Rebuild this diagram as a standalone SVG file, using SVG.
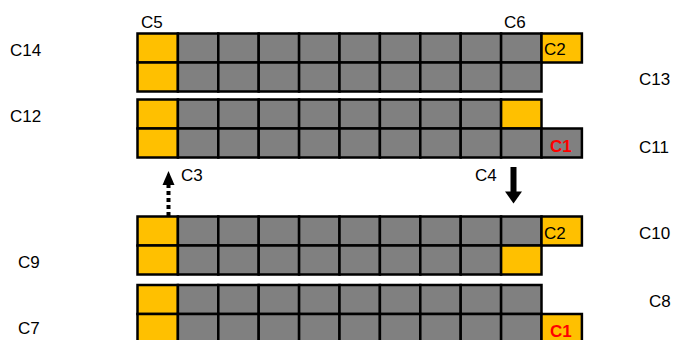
<svg xmlns="http://www.w3.org/2000/svg" width="674" height="340" viewBox="0 0 674 340">
<style>
.g{fill:#808080;stroke:#000;stroke-width:2.5}
.y{fill:#FFC000;stroke:#000;stroke-width:2.5}
text{font-family:"Liberation Sans",Arial,sans-serif;font-size:17px;fill:#000}
.r{fill:#FF0000;font-weight:bold}
</style>
<defs>
<g id="row9">
<rect class="g" x="177.9" width="40.4" height="29"/>
<rect class="g" x="218.3" width="40.4" height="29"/>
<rect class="g" x="258.7" width="40.4" height="29"/>
<rect class="g" x="299.1" width="40.4" height="29"/>
<rect class="g" x="339.5" width="40.4" height="29"/>
<rect class="g" x="379.9" width="40.4" height="29"/>
<rect class="g" x="420.3" width="40.4" height="29"/>
<rect class="g" x="460.7" width="40.4" height="29"/>
</g>
</defs>
<g id="block1">
<rect class="y" x="137.5" y="33.5" width="40.4" height="29"/>
<use href="#row9" y="33.5"/>
<rect class="g" x="501.1" y="33.5" width="40.4" height="29"/>
<rect class="y" x="541.5" y="33.5" width="40.4" height="29"/>
<text x="544" y="55">C2</text>
<rect class="y" x="137.5" y="62.5" width="40.4" height="29"/>
<use href="#row9" y="62.5"/>
<rect class="g" x="501.1" y="62.5" width="40.4" height="29"/>
</g>
<g id="block2">
<rect class="y" x="137.5" y="99.5" width="40.4" height="29"/>
<use href="#row9" y="99.5"/>
<rect class="y" x="501.1" y="99.5" width="40.4" height="29"/>
<rect class="y" x="137.5" y="128.5" width="40.4" height="29"/>
<use href="#row9" y="128.5"/>
<rect class="g" x="501.1" y="128.5" width="40.4" height="29"/>
<rect class="g" x="541.5" y="128.5" width="40.4" height="29"/>
<text class="r" x="550" y="152">C1</text>
</g>
<g id="block3">
<rect class="y" x="137.5" y="216.5" width="40.4" height="29"/>
<use href="#row9" y="216.5"/>
<rect class="g" x="501.1" y="216.5" width="40.4" height="29"/>
<rect class="y" x="541.5" y="216.5" width="40.4" height="29"/>
<text x="544" y="239">C2</text>
<rect class="y" x="137.5" y="245.5" width="40.4" height="29"/>
<use href="#row9" y="245.5"/>
<rect class="y" x="501.1" y="245.5" width="40.4" height="29"/>
</g>
<g id="block4">
<rect class="y" x="137.5" y="285" width="40.4" height="29"/>
<use href="#row9" y="285"/>
<rect class="g" x="501.1" y="285" width="40.4" height="29"/>
<rect class="y" x="137.5" y="314" width="40.4" height="29"/>
<use href="#row9" y="314"/>
<rect class="g" x="501.1" y="314" width="40.4" height="29"/>
<rect class="y" x="541.5" y="314" width="40.4" height="29"/>
<text class="r" x="550" y="337">C1</text>
</g>
<g id="connectors">
<line x1="168.5" y1="216" x2="168.5" y2="184" stroke="#000" stroke-width="4" stroke-dasharray="4,3"/>
<polygon points="168.5,171 162.5,185 174.5,185" fill="#000"/>
<line x1="513.5" y1="167" x2="513.5" y2="193" stroke="#000" stroke-width="6"/>
<polygon points="505,191.5 522,191.5 513.5,203.5" fill="#000"/>
</g>
<g id="labels">
<text x="141" y="28">C5</text>
<text x="504" y="28">C6</text>
<text x="10" y="56">C14</text>
<text x="639" y="85">C13</text>
<text x="10" y="122">C12</text>
<text x="639" y="153">C11</text>
<text x="181" y="181">C3</text>
<text x="475" y="181">C4</text>
<text x="639" y="239">C10</text>
<text x="18" y="268">C9</text>
<text x="649" y="307">C8</text>
<text x="18" y="334">C7</text>
</g>
</svg>
